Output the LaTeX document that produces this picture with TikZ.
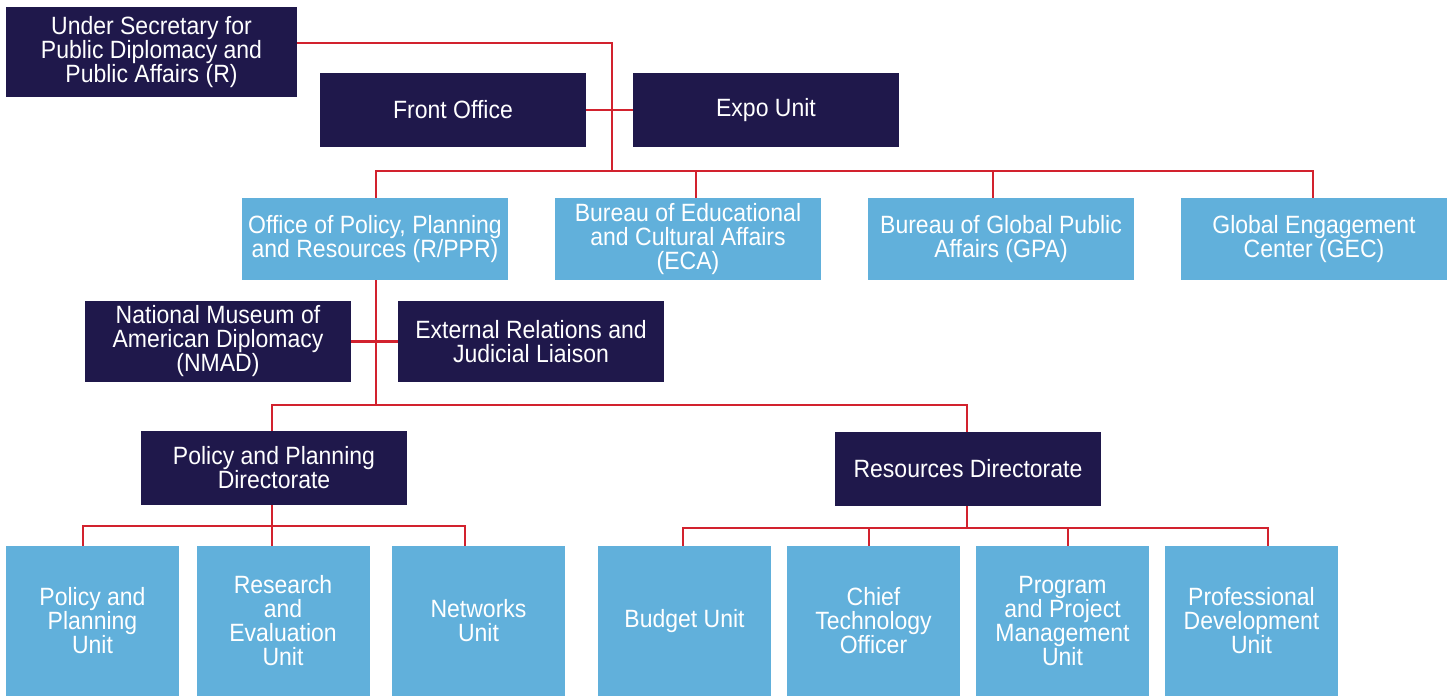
\documentclass[tikz,border=0pt]{standalone}
\usepackage{fontspec}
\setmainfont{Liberation Sans}[FakeStretch=0.92]
\usetikzlibrary{calc}
\definecolor{navy}{RGB}{31,24,75}
\definecolor{lblue}{RGB}{97,176,219}
\definecolor{lred}{RGB}{210,34,46}
\newcommand\orgboxfont{\fontsize{12.5pt}{12pt}\selectfont\setlength{\lineskiplimit}{-20pt}\relax}
\begin{document}
\begin{tikzpicture}[x=0.5pt,y=-0.5pt,
  box/.style={inner sep=0pt, align=center, text=white, font=\orgboxfont},
  dark/.style={box, fill=navy},
  light/.style={box, fill=lblue},
  unit/.style={light, minimum width=86.5pt, minimum height=75pt},
  conn/.style={draw=lred, line width=1.25pt}]
\useasboundingbox (0,0) rectangle (1453,696);
% top
\node[dark, minimum width=145.5pt, minimum height=45pt] (us) at (151.5,52) {Under Secretary for\\Public Diplomacy and\\Public Affairs (R)};
\node[dark, minimum width=133pt, minimum height=37pt] (front) at (453,110) {Front Office};
\node[dark, minimum width=133pt, minimum height=37pt] (expo) at (766,110) {Expo Unit};
% second row
\node[light, minimum width=133pt, minimum height=41pt] (oppr) at (375,239) {Office of Policy, Planning\\and Resources (R/PPR)};
\node[light, minimum width=133pt, minimum height=41pt] (eca) at (688,239) {Bureau of Educational\\and Cultural Affairs\\(ECA)};
\node[light, minimum width=133pt, minimum height=41pt] (gpa) at (1001,239) {Bureau of Global Public\\Affairs (GPA)};
\node[light, minimum width=133pt, minimum height=41pt] (gec) at (1314,239) {Global Engagement\\Center (GEC)};
% third
\node[dark, minimum width=133pt, minimum height=40.5pt] (nmad) at (218,341.5) {National Museum of\\American Diplomacy\\(NMAD)};
\node[dark, minimum width=133pt, minimum height=40.5pt] (ext) at (531,341.5) {External Relations and\\Judicial Liaison};
% directorates
\node[dark, minimum width=133pt, minimum height=37pt] (ppd) at (274,468) {Policy and Planning\\Directorate};
\node[dark, minimum width=133pt, minimum height=37pt] (rd) at (968,469) {Resources Directorate};
% units
\node[unit] (ppu) at (92.5,621) {Policy and\\Planning\\Unit};
\node[unit] (reu) at (283,621) {Research\\and\\Evaluation\\Unit};
\node[unit] (nu) at (478.5,621) {Networks\\Unit};
\node[unit] (bu) at (684.5,621) {Budget Unit};
\node[unit] (cto) at (873.5,621) {Chief\\Technology\\Officer};
\node[unit] (ppm) at (1062.5,621) {Program\\and Project\\Management\\Unit};
\node[unit] (pdu) at (1251.5,621) {Professional\\Development\\Unit};
% connectors
\coordinate (t1) at (612,43);
\coordinate (j1) at (612,171);
\draw[conn] (us.east |- t1) -- (t1) -- (j1);
\draw[conn] (front.east) -- (expo.west);
\coordinate (d1) at (376,171);
\coordinate (d2) at (696,171);
\coordinate (d3) at (993,171);
\coordinate (d4) at (1313,171);
\draw[conn] (oppr.north -| d1) -- (d1) -- (d4) -- (gec.north -| d4);
\draw[conn] (eca.north -| d2) -- (d2);
\draw[conn] (gpa.north -| d3) -- (d3);
\coordinate (j2) at (376,405);
\draw[conn] (oppr.south -| j2) -- (j2);
\draw[conn] (nmad.east) -- (ext.west);
\coordinate (e1) at (272,405);
\coordinate (e2) at (967,405);
\draw[conn] (ppd.north -| e1) -- (e1) -- (e2) -- (rd.north -| e2);
% PPD units
\coordinate (f1) at (83,526);
\coordinate (f2) at (272,526);
\coordinate (f3) at (465,526);
\draw[conn] (ppd.south -| f2) -- (reu.north -| f2);
\draw[conn] (ppu.north -| f1) -- (f1) -- (f3) -- (nu.north -| f3);
% RD units
\coordinate (g1) at (683,528);
\coordinate (g2) at (869,528);
\coordinate (g3) at (967,528);
\coordinate (g4) at (1068,528);
\coordinate (g5) at (1268,528);
\draw[conn] (rd.south -| g3) -- (g3);
\draw[conn] (bu.north -| g1) -- (g1) -- (g5) -- (pdu.north -| g5);
\draw[conn] (cto.north -| g2) -- (g2);
\draw[conn] (ppm.north -| g4) -- (g4);
\end{tikzpicture}
\end{document}
